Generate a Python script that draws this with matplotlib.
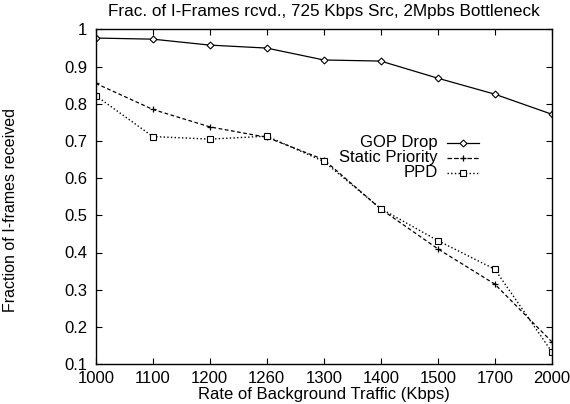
import numpy as np
import matplotlib.pyplot as plt

plt.rcParams['font.family'] = ['Liberation Sans', 'DejaVu Sans']

# data
rates = ["1000", "1100", "1200", "1260", "1300", "1400", "1500", "1700", "2000"]
gop_drop = [0.977, 0.974, 0.958, 0.950, 0.918, 0.915, 0.869, 0.826, 0.772]
static_priority = [0.855, 0.785, 0.738, 0.710, 0.650, 0.517, 0.410, 0.315, 0.160]
ppd = [0.822, 0.712, 0.705, 0.713, 0.645, 0.518, 0.432, 0.355, 0.133]

x = np.arange(len(rates))

fig = plt.figure(figsize=(5.7, 4.04), dpi=100)
ax = fig.add_axes([0.168, 0.099, 0.800, 0.828])

ax.plot(x, gop_drop, '-', color='black', lw=0.9, marker='D', ms=3.5,
        mfc='white', mec='black', mew=0.8, label='GOP Drop')
ax.plot(x, static_priority, '--', color='black', lw=0.9, dashes=(3, 2),
        marker='+', ms=5, mew=0.9, label='Static Priority')
ax.plot(x, ppd, ':', color='black', lw=1.0, marker='s', ms=5,
        mfc='white', mec='black', mew=0.8, label='PPD')

ax.set_xlim(0, len(rates) - 1)
ax.set_ylim(0.1, 1.0)
ax.set_xticks(x)
ax.set_xticklabels(rates)
ax.set_yticks(np.arange(0.1, 1.01, 0.1))
ax.set_yticklabels(['0.1', '0.2', '0.3', '0.4', '0.5', '0.6', '0.7', '0.8', '0.9', '1'])
ax.tick_params(direction='in', length=4, width=0.8, labelsize=12, top=True, right=True)
ax.tick_params(axis='x', pad=5)
ax.tick_params(axis='y', pad=6)
for s in ax.spines.values():
    s.set_linewidth(1.0)

ax.set_title('Frac. of I-Frames rcvd., 725 Kbps Src, 2Mpbs Bottleneck', fontsize=12.3, pad=10)
ax.set_xlabel('Rate of Background Traffic (Kbps)', fontsize=12, labelpad=1)
ax.set_ylabel('Fraction of I-frames received', fontsize=11.5, labelpad=26)
ax.yaxis.set_label_coords(-0.17, 0.46)

# legend drawn gnuplot style: right-aligned label, then the line sample
leg_x0, leg_x1 = 0.77, 0.84
leg_y = [0.661, 0.616, 0.571]
for line, yy in zip(ax.get_lines(), leg_y):
    ax.plot([leg_x0, leg_x1], [yy, yy], transform=ax.transAxes,
            ls=line.get_linestyle(), lw=line.get_linewidth(), color='black', clip_on=False)
    ax.plot([(leg_x0 + leg_x1) / 2], [yy], transform=ax.transAxes,
            marker=line.get_marker(), ms=line.get_markersize(), mfc=line.get_markerfacecolor(),
            mec='black', mew=line.get_markeredgewidth(), ls='none', clip_on=False)
    ax.text(leg_x0 - 0.02, yy, line.get_label(), transform=ax.transAxes,
            ha='right', va='center', fontsize=12)

fig.savefig('out.png', dpi=100)
